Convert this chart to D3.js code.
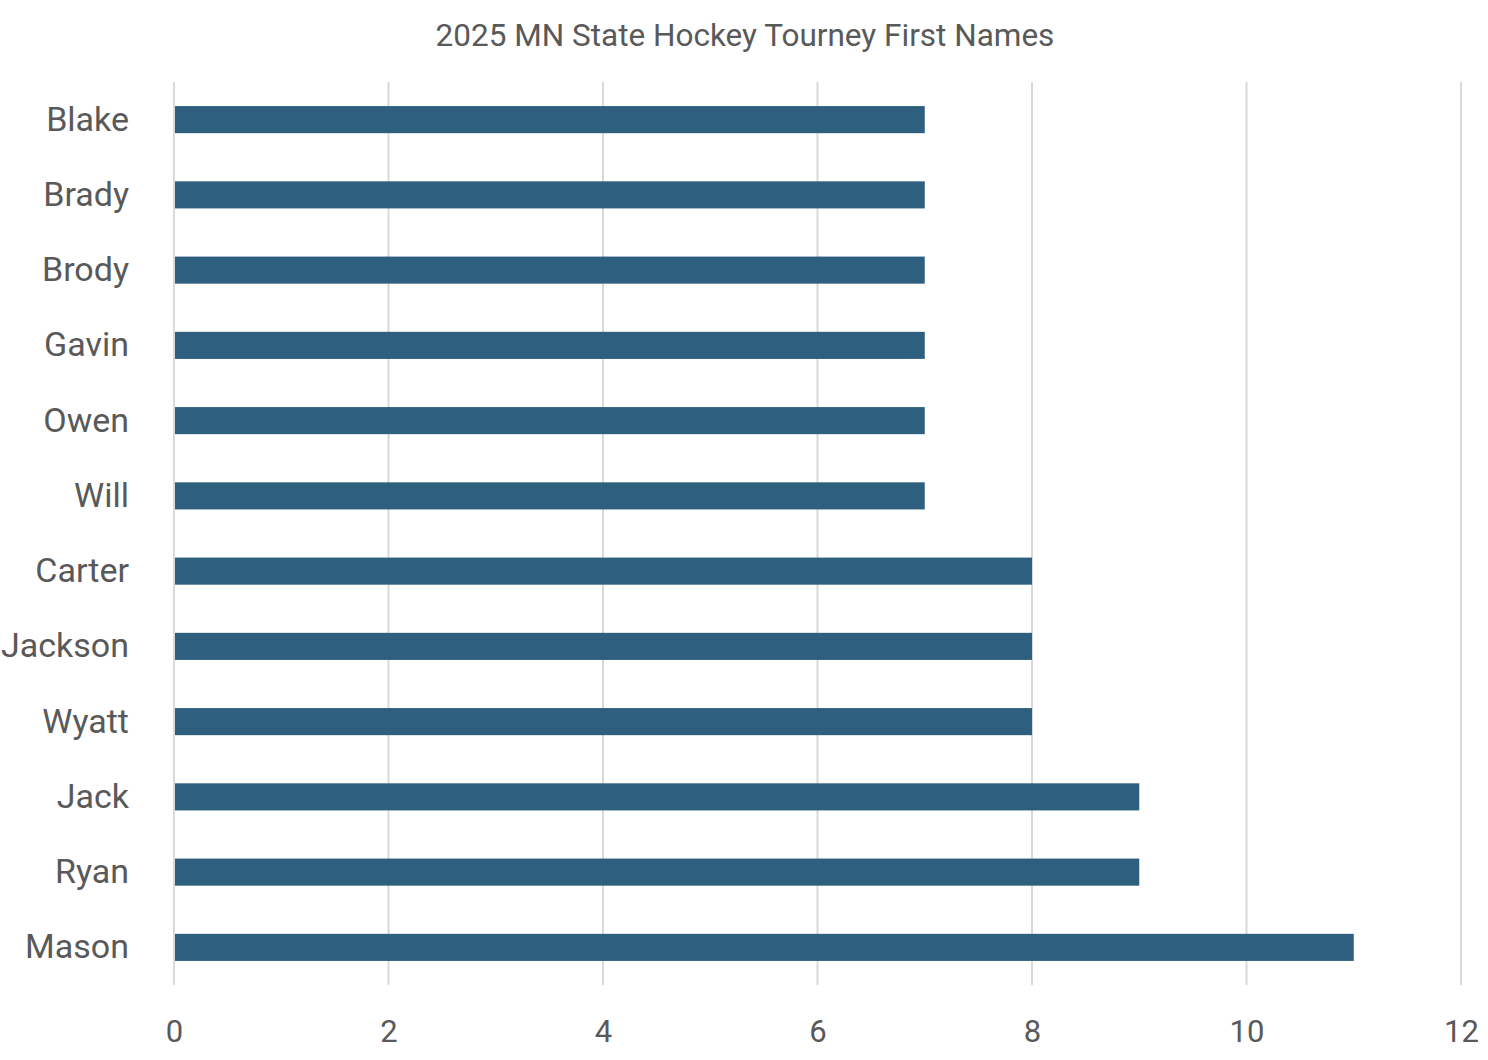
<!DOCTYPE html>
<html><head><meta charset="utf-8">
<script src="https://cdn.jsdelivr.net/npm/d3@7"></script>
<style>body{margin:0;background:#fff}</style>
</head><body>
<svg id="c" width="1488" height="1060"></svg>
<script>
const names = ["Blake","Brady","Brody","Gavin","Owen","Will","Carter","Jackson","Wyatt","Jack","Ryan","Mason"];
const counts = [7,7,7,7,7,7,8,8,8,9,9,11];
const xTicks = [0,2,4,6,8,10,12];
const title = "2025 MN State Hockey Tourney First Names";

(function(){
const svg = d3.select("#c");
const font = "Roboto, 'Open Sans', sans-serif";
const mLeft = 174, mRight = 1461, mTop = 82, mBottom = 985;
const x = d3.scaleLinear().domain([0,12]).range([mLeft,mRight]);
const y = d3.scaleBand().domain(names).range([mTop,mBottom]).paddingInner(0.64).paddingOuter(0.32);

svg.append("text").attr("x",745).attr("y",46).attr("text-anchor","middle")
  .attr("font-family",font).attr("font-size",31.5).attr("fill","#595959").text(title);

svg.append("g").selectAll("line").data(xTicks).join("line")
  .attr("x1",d=>x(d)).attr("x2",d=>x(d)).attr("y1",mTop).attr("y2",mBottom)
  .attr("stroke","#d9d9d9").attr("stroke-width",2);

svg.append("g").selectAll("rect").data(names).join("rect")
  .attr("x",x(0)+1).attr("y",d=>y(d)).attr("height",y.bandwidth())
  .attr("width",(d,i)=>x(counts[i])-x(0)-1).attr("fill","#2E5F7F");

const xa = svg.append("g").attr("transform",`translate(0,${mBottom})`)
  .call(d3.axisBottom(x).tickValues(xTicks).tickSize(0).tickPadding(35));
xa.select(".domain").remove();
xa.selectAll("text").attr("font-family",font).attr("font-size",31).attr("fill","#595959");

const ya = svg.append("g").attr("transform",`translate(${mLeft},0)`)
  .call(d3.axisLeft(y).tickSize(0).tickPadding(45));
ya.select(".domain").remove();
ya.selectAll("text").attr("font-family",font).attr("font-size",34).attr("fill","#595959");
})();
</script>
</body></html>
